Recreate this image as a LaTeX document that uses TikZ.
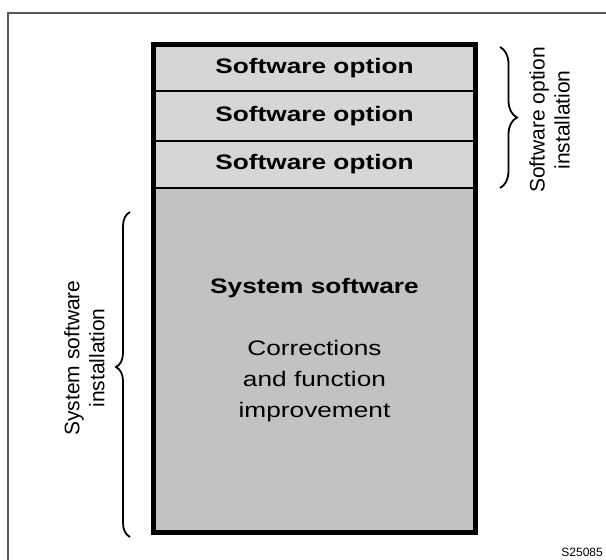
\documentclass[tikz,border=0pt]{standalone}
\usepackage{fontspec}
\setmainfont{Liberation Sans}
\newfontfamily\widefont[FakeStretch=1.25]{Liberation Sans}
\usetikzlibrary{decorations.pathreplacing}
\definecolor{optfill}{gray}{0.84}
\definecolor{sysfill}{gray}{0.76}
\definecolor{framecol}{gray}{0.35}
\tikzset{
  rowbox/.style={draw=black, line width=2.5pt, inner sep=0pt, minimum width=320pt},
  optbox/.style={rowbox, fill=optfill, font=\widefont\bfseries\fontsize{21}{25}\selectfont},
  sysbox/.style={rowbox, fill=sysfill},
  boxtext/.style={inner sep=0pt, align=center},
  sidelabel/.style={rotate=90, align=center, inner sep=0pt, font=\fontsize{21}{25}\selectfont},
  bracepath/.style={line width=1.8pt, decorate},
}
\begin{document}
\begin{tikzpicture}[x=1pt,y=-1pt]
\useasboundingbox (0,0) rectangle (606,560);
% outer frame (only top and left edges visible)
\coordinate (ftl) at (8,13);
\coordinate (ftr) at (606,13);
\coordinate (fbl) at (8,560);
\draw[framecol, line width=1.3pt] (ftr) -- (ftl) -- (fbl);
% rows
\node[optbox, minimum height=45.5pt] (o1) at (314.5,68.25) {Software option};
\node[optbox, minimum height=50pt] (o2) at (314.5,116) {Software option};
\node[optbox, minimum height=47pt] (o3) at (314.5,164.5) {Software option};
\node[sysbox, minimum height=343.5pt] (sys) at (314.5,359.75) {};
\draw[line width=5pt] (o1.north west) rectangle (sys.south east);
\node[boxtext, font=\widefont\bfseries\fontsize{21}{25}\selectfont] (systitle) at (314.5,288) {System software};
\node[boxtext, font=\widefont\fontsize{21}{31}\selectfont] (sysdesc) at (314.5,381) {Corrections\\and function\\improvement};
% braces
\coordinate (rbt) at (500,47);
\coordinate (rbb) at (500,188);
\draw[bracepath, decoration={brace, amplitude=17pt, aspect=0.5}] (rbt) -- (rbb);
\coordinate (lbb) at (130,537);
\coordinate (lbt) at (130,212);
\draw[bracepath, decoration={brace, amplitude=14pt, aspect=0.523}] (lbb) -- (lbt);
% side labels
\node[sidelabel] (rlab) at (549.5,120) {Software option\\installation};
\node[sidelabel] (llab) at (84.5,358) {System software\\installation};
% figure id
\node[anchor=east, inner sep=0pt, font=\fontsize{12}{14}\selectfont] (fid) at (603,552) {S25085};
\end{tikzpicture}
\end{document}
